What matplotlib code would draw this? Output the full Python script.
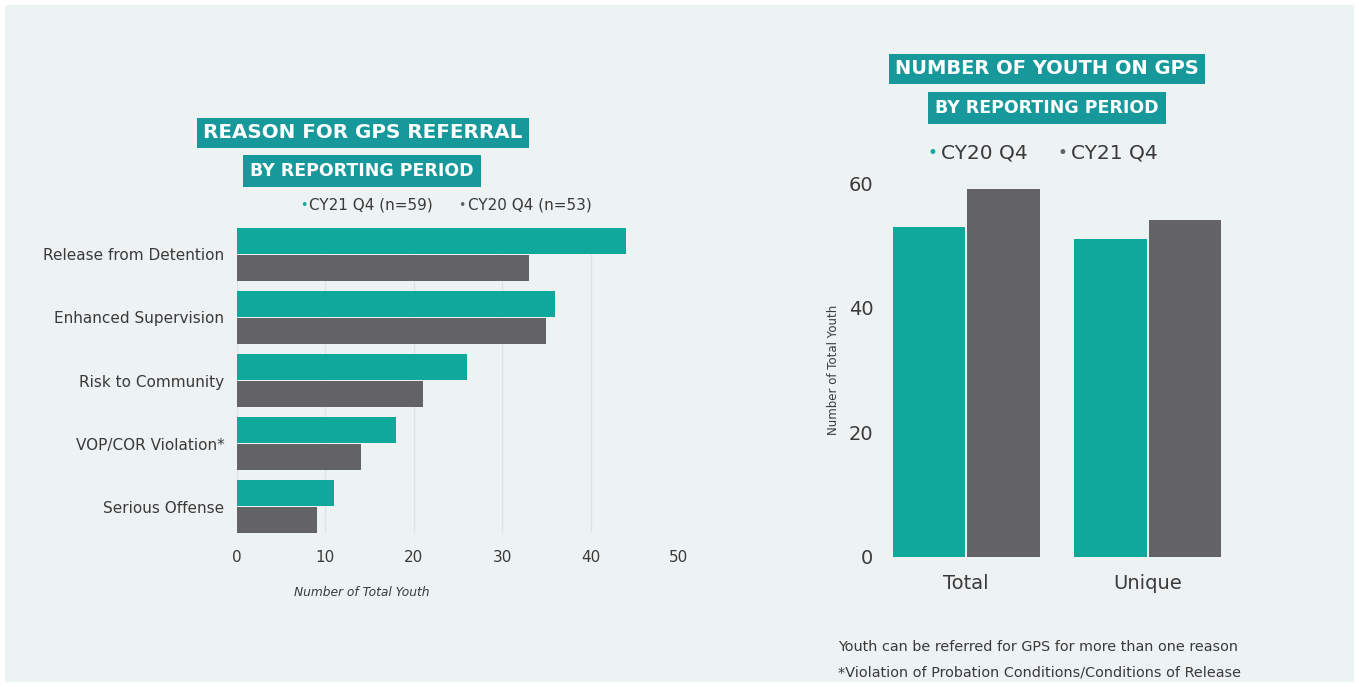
import matplotlib
matplotlib.use("Agg")
import matplotlib.pyplot as plt
from matplotlib.patches import Rectangle
import numpy as np

# ---- data ----
reasons = ["Release from Detention", "Enhanced Supervision", "Risk to Community",
           "VOP/COR Violation*", "Serious Offense"]
cy21_reason = [44, 36, 26, 18, 11]
cy20_reason = [33, 35, 21, 14, 9]
reason_ticks = [0, 10, 20, 30, 40, 50]

count_cats = ["Total", "Unique"]
cy20_count = [53, 51]
cy21_count = [59, 54]
count_ticks = [0, 20, 40, 60]

TEAL = "#0fa89b"
GREY = "#636366"
BOXC = "#17999b"
BG = "#edf2f3"
TXT = "#3a3a3a"

plt.rcParams['font.family'] = ['DejaVu Sans']

W, H = 1359, 687
fig = plt.figure(figsize=(W / 100, H / 100), dpi=100)
fig.patch.set_facecolor("white")
fig.patches.append(Rectangle((5 / W, 5 / H), 1 - 10 / W, 1 - 10 / H, transform=fig.transFigure,
                             facecolor=BG, edgecolor="none", zorder=-10))

def fx(px):
    return px / W

def fy(py):
    return 1 - py / H

# ---- left chart ----
axL = fig.add_axes([fx(237), fy(533), fx(679) - fx(237), fy(228) - fy(533)])
axL.set_facecolor("none")
y = np.arange(len(reasons))
axL.barh(y - 0.215, cy21_reason, height=0.41, color=TEAL, zorder=3)
axL.barh(y + 0.215, cy20_reason, height=0.41, color=GREY, zorder=3)
axL.set_ylim(len(reasons) - 0.58, -0.42)
axL.set_xlim(0, 50)
axL.set_yticks(y)
axL.set_yticklabels(reasons, fontsize=11, color=TXT)
axL.set_xticks(reason_ticks)
axL.set_xticklabels([str(t) for t in reason_ticks], fontsize=11, color=TXT)
axL.tick_params(axis='y', length=0, pad=9)
axL.tick_params(axis='x', length=0, pad=12)
for s in axL.spines.values():
    s.set_visible(False)
axL.grid(axis='x', color="#dde3e6", lw=0.9, zorder=0)
fig.text(fx(362), fy(592), "Number of Total Youth", ha='center', va='center',
         fontsize=8.8, style='italic', color=TXT)

# left titles
fig.text(fx(363), fy(133), "REASON FOR GPS REFERRAL", ha='center', va='center',
         fontsize=14.3, fontweight='bold', color="white",
         bbox=dict(boxstyle='square,pad=0.3', fc=BOXC, ec='none'))
fig.text(fx(362), fy(171), "BY REPORTING PERIOD", ha='center', va='center',
         fontsize=12.5, fontweight='bold', color="white",
         bbox=dict(boxstyle='square,pad=0.4', fc=BOXC, ec='none'))
fig.text(fx(300), fy(205), "•", ha='left', va='center', fontsize=9, color=TEAL)
fig.text(fx(309), fy(205), "CY21 Q4 (n=59)", ha='left', va='center', fontsize=11, color=TXT)
fig.text(fx(458), fy(205), "•", ha='left', va='center', fontsize=9, color=GREY)
fig.text(fx(468), fy(205), "CY20 Q4 (n=53)", ha='left', va='center', fontsize=11, color=TXT)

# ---- right chart ----
axR = fig.add_axes([fx(890), fy(557), fx(1224) - fx(890), fy(183) - fy(557)])
axR.set_facecolor("none")
x = np.arange(len(count_cats))
axR.bar(x - 0.205, cy20_count, width=0.4, color=TEAL, zorder=3)
axR.bar(x + 0.205, cy21_count, width=0.4, color=GREY, zorder=3)
axR.set_xlim(-0.42, 1.42)
axR.set_ylim(0, 60)
axR.set_yticks(count_ticks)
axR.set_yticklabels([str(t) for t in count_ticks], fontsize=14, color=TXT)
axR.set_xticks(x)
axR.set_xticklabels(count_cats, fontsize=14, color=TXT)
axR.tick_params(axis='y', length=0, pad=12)
axR.tick_params(axis='x', length=0, pad=12)
for s in axR.spines.values():
    s.set_visible(False)
axR.set_yticks([20, 40], minor=True)
axR.tick_params(axis='y', which='minor', length=0)
axR.grid(axis='y', which='minor', color="#dde3e6", lw=0.9, zorder=0)
axR.set_ylabel("Number of Total Youth", fontsize=8.5, color=TXT, labelpad=6)

fig.text(fx(1047), fy(69), "NUMBER OF YOUTH ON GPS", ha='center', va='center',
         fontsize=14, fontweight='bold', color="white",
         bbox=dict(boxstyle='square,pad=0.3', fc=BOXC, ec='none'))
fig.text(fx(1047), fy(108), "BY REPORTING PERIOD", ha='center', va='center',
         fontsize=12.5, fontweight='bold', color="white",
         bbox=dict(boxstyle='square,pad=0.4', fc=BOXC, ec='none'))
fig.text(fx(928), fy(153), "•", ha='left', va='center', fontsize=12, color=TEAL)
fig.text(fx(941), fy(153), "CY20 Q4", ha='left', va='center', fontsize=14.5, color=TXT)
fig.text(fx(1057), fy(153), "•", ha='left', va='center', fontsize=12, color=GREY)
fig.text(fx(1071), fy(153), "CY21 Q4", ha='left', va='center', fontsize=14.5, color=TXT)

fig.text(fx(838), fy(647), "Youth can be referred for GPS for more than one reason",
         ha='left', va='center', fontsize=10.4, color=TXT)
fig.text(fx(838), fy(672), "*Violation of Probation Conditions/Conditions of Release",
         ha='left', va='center', fontsize=10.4, color=TXT)

fig.savefig("out.png", dpi=100, facecolor=fig.get_facecolor())
